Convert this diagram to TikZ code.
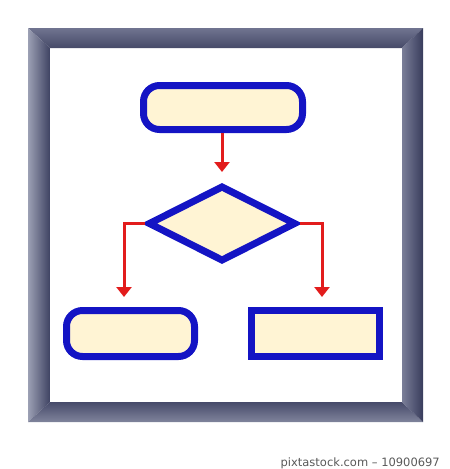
\documentclass[tikz,border=0pt]{standalone}
\usepackage{fontspec}
\newfontfamily\wmfont{DejaVu Sans}
\usetikzlibrary{shapes.geometric,arrows.meta}
\definecolor{pxblue}{HTML}{1414C4}
\definecolor{pxcream}{HTML}{FFF4D4}
\definecolor{pxred}{HTML}{E21C1C}
\begin{document}
\begin{tikzpicture}[x=1pt,y=-1pt,
  box/.style={draw=pxblue,fill=pxcream,line width=7pt,inner sep=0pt},
  term/.style={box,rectangle,rounded corners=16pt},
  flow/.style={draw=pxred,line width=3pt,-{Triangle[width=15pt,length=10pt]},shorten >=10pt},
  wm/.style={font=\wmfont\fontsize{11.5pt}{14pt}\selectfont,text=black!65,inner sep=0pt,anchor=base east}
]
\useasboundingbox (0,0) rectangle (450,469);
% frame
\shade[top color={rgb,255:red,112;green,116;blue,144},bottom color={rgb,255:red,70;green,74;blue,104}] (28,28) -- (423,28) -- (402,48) -- (50,48) -- cycle;
\shade[left color={rgb,255:red,156;green,160;blue,180},right color={rgb,255:red,62;green,66;blue,98}] (28,28) -- (50,48) -- (50,402) -- (28,422) -- cycle;
\shade[top color={rgb,255:red,70;green,74;blue,106},bottom color={rgb,255:red,128;green,132;blue,156}] (28,422) -- (50,402) -- (402,402) -- (423,422) -- cycle;
\shade[left color={rgb,255:red,122;green,126;blue,152},right color={rgb,255:red,56;green,60;blue,92}] (423,28) -- (423,422) -- (402,402) -- (402,48) -- cycle;
% nodes
\node[term,minimum width=159pt,minimum height=44pt] (top) at (223,107.5) {};
\node[box,diamond,minimum width=148pt,minimum height=76pt] (dia) at (222,223.5) {};
\node[term,minimum width=128pt,minimum height=46pt] (bl) at (130.5,333.5) {};
\node[box,rectangle,minimum width=128pt,minimum height=46pt] (br) at (315.5,333.5) {};
% connectors
\coordinate (lc) at (124,223.5);
\coordinate (rc) at (322,223.5);
\draw[flow] (dia.north |- top.south) -- (dia.north);
\draw[flow] (dia.west) -- (lc) -- (lc |- bl.north);
\draw[flow] (dia.east) -- (rc) -- (rc |- br.north);
% watermark text
\node[wm] (wmtext) at (440,466) {pixtastock.com – 10900697};
\end{tikzpicture}
\end{document}
